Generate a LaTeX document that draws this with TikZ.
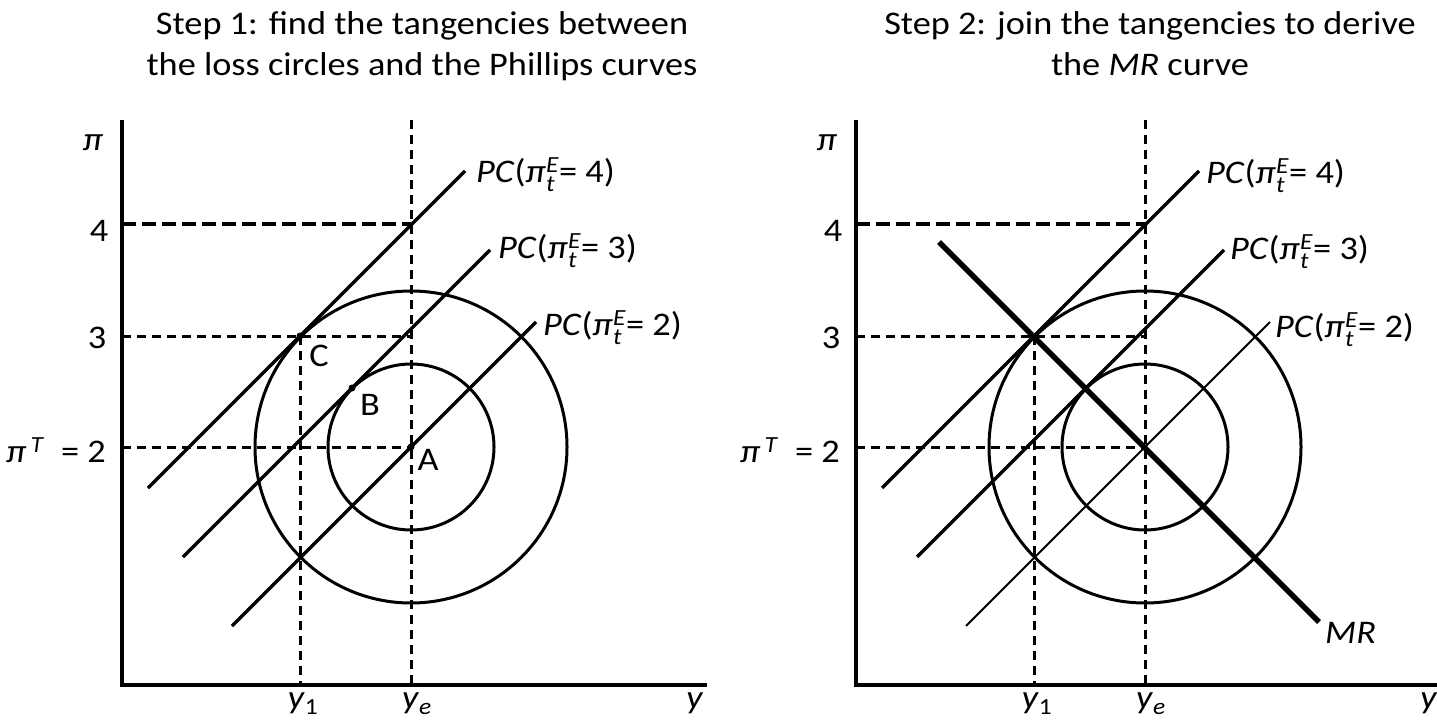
\documentclass[tikz,border=0pt]{standalone}
\usepackage{fontspec}
\usepackage{amsmath}
\setmainfont{Carlito}[FakeStretch=1.1]
\newcommand\itx[1]{\text{\textit{#1}}}
\newcommand\pce[1]{\textit{PC}($\itx{π}^{\itx{E}}_{\itx{t}}$= #1)}
\newcommand\drawpanel[2]{%
  \coordinate (#1top) at (122,120);
  \coordinate (#1o) at (122,685);
  \coordinate (#1xe) at (707,685);
  \coordinate (#1A) at (411,447);
  \coordinate (#1yetop) at (411,120);
  \coordinate (#1yebot) at (411,685);
  \coordinate (#1C) at (300,336);
  \coordinate (#1B) at (352,388);
  \coordinate (#1yonebot) at (300,685);
  \coordinate (#1hfa) at (122,224);
  \coordinate (#1hfb) at (411,224);
  \coordinate (#1hta) at (122,336);
  \coordinate (#1htb) at (411,336);
  \coordinate (#1hwa) at (122,447);
  \coordinate (#1pfa) at (148,488);
  \coordinate (#1pfb) at (465,171);
  \coordinate (#1pta) at (183,557);
  \coordinate (#1ptb) at (490,250);
  \coordinate (#1pwa) at (232,626);
  \coordinate (#1pwb) at (536,322);
  \draw[guide] (#1yetop) -- (#1yebot);
  \draw[guide] (#1C) -- (#1yonebot);
  \draw[guidethick] (#1hfa) -- (#1hfb);
  \draw[guide] (#1hta) -- (#1htb);
  \draw[guide] (#1hwa) -- (#1A);
  \draw[loss] (#1A) circle[radius=156pt];
  \draw[loss] (#1A) circle[radius=83pt];
  \draw[pcline] (#1pfa) -- (#1pfb);
  \draw[pcline] (#1pta) -- (#1ptb);
  \draw[#2] (#1pwa) -- (#1pwb);
  \draw[ax] (#1top) -- (#1o) -- (#1xe);
  \node[lbl] (#1pi) at (93,143) {\textit{π}};
  \node[lbl] (#1four) at (99,231) {4};
  \node[lbl] (#1three) at (97,338) {3};
  \node[lbl, anchor=base east] (#1piT) at (106,462) {$\itx{π}^{\,\itx{T}}$\enspace= 2};
  \node[lbl, anchor=base] (#1yone) at (303,708) {$\itx{y}_{\text{1}}$};
  \node[lbl, anchor=base] (#1ye) at (417,708) {$\itx{y}_{\itx{e}}$};
  \node[lbl, anchor=base] (#1y) at (695,708) {\textit{y}};
}
\begin{document}
\begin{tikzpicture}[x=1pt,y=-1pt,
  font=\fontsize{33}{40}\selectfont,
  ax/.style={line width=3.5pt},
  pcline/.style={line width=3.3pt},
  thinpc/.style={line width=2pt},
  loss/.style={line width=3pt},
  guide/.style={line width=3pt, dash pattern=on 9pt off 6pt},
  guidethick/.style={line width=4.5pt, dash pattern=on 14pt off 6pt},
  mrline/.style={line width=5.5pt},
  lbl/.style={inner sep=0pt},
  dotpt/.style={circle, fill, inner sep=0pt, minimum size=7pt}]
\useasboundingbox (0,0) rectangle (1437,725);
\clip (0,0) rectangle (1437,725);
% titles
\node[lbl, anchor=base] (t1a) at (422,35) {Step 1: find the tangencies between};
\node[lbl, anchor=base] (t1b) at (422,75) {the loss circles and the Phillips curves};
\node[lbl, anchor=base] (t2a) at (1150,35) {Step 2: join the tangencies to derive};
\node[lbl, anchor=base] (t2b) at (1150,75) {the \textit{MR} curve};
% left panel
\drawpanel{L}{pcline}
\node[dotpt] (Ldc) at (LC) {};
\node[dotpt] (Ldb) at (LB) {};
\node[dotpt] (Lda) at (LA) {};
\node[lbl] (Lcl) at (319,356) {C};
\node[lbl] (Lbl) at (370,405) {B};
\node[lbl] (Lal) at (428,460) {A};
\node[lbl, anchor=base west] (Lpcf) at (476,182) {\pce{4}};
\node[lbl, anchor=base west] (Lpct) at (498,258) {\pce{3}};
\node[lbl, anchor=base west] (Lpcw) at (543,335) {\pce{2}};
% right panel
\begin{scope}[xshift=734pt]
\drawpanel{R}{thinpc}
\coordinate (Rma) at (205,242);
\coordinate (Rmb) at (585,622);
\draw[mrline] (Rma) -- (Rmb);
\node[lbl, anchor=base west] (Rmr) at (591,643) {\textit{MR}};
\node[lbl, anchor=base west] (Rpcf) at (472,183) {\pce{4}};
\node[lbl, anchor=base west] (Rpct) at (496,259) {\pce{3}};
\node[lbl, anchor=base west] (Rpcw) at (541,337) {\pce{2}};
\end{scope}
\end{tikzpicture}
\end{document}
